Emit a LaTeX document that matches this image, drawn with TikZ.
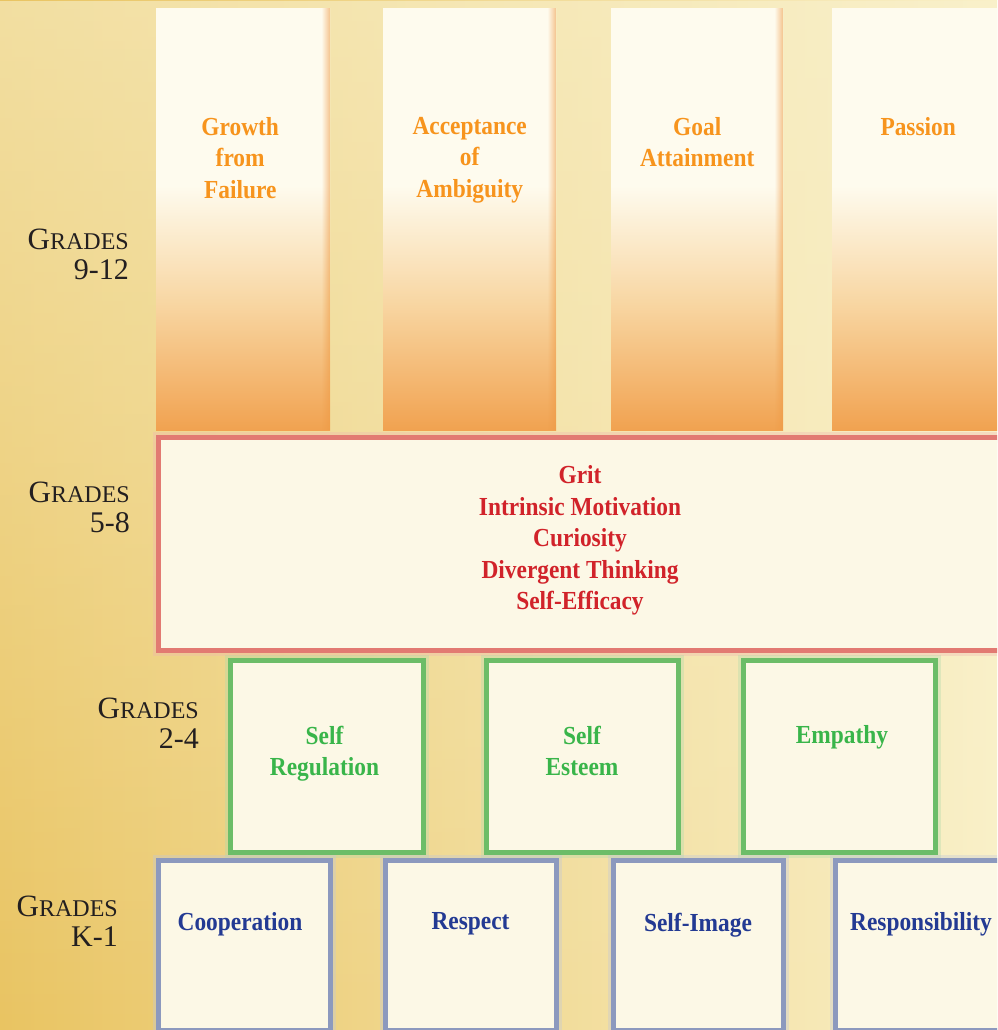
\documentclass[tikz,border=0pt]{standalone}
\usepackage{fontspec}
\setmainfont{Liberation Serif}
\newfontfamily\boxfont{Liberation Serif}[FakeStretch=0.9]
\usepackage{xcolor}
\usetikzlibrary{positioning}
\usetikzlibrary{fadings}

\definecolor{bgLeft}{HTML}{E9C462}
\definecolor{bgRight}{HTML}{F9F0C8}
\definecolor{bgTop}{HTML}{F9F1CC}
\definecolor{pillTop}{HTML}{FEFBEE}
\definecolor{pillLow}{HTML}{F8D6A2}
\definecolor{pillBot}{HTML}{F1A250}
\definecolor{pillEdge}{HTML}{EE9A45}
\definecolor{boxFill}{HTML}{FCF8E6}
\definecolor{edgeRed}{HTML}{E27A72}
\definecolor{edgeGreen}{HTML}{6CBD68}
\definecolor{edgeBlue}{HTML}{8C99BE}
\definecolor{txtOrange}{HTML}{F7941D}
\definecolor{txtRed}{HTML}{D1232A}
\definecolor{txtGreen}{HTML}{39B54A}
\definecolor{txtBlue}{HTML}{233A93}
\definecolor{txtGrade}{HTML}{231F20}

\tikzfading[name=edge glow, left color=transparent!100, right color=transparent!0]
\tikzfading[name=fade down, top color=transparent!0, bottom color=transparent!100]
\pgfdeclareverticalshading{pillarshade}{100bp}{color(0bp)=(pillBot); color(25bp)=(pillBot);
  color(40bp)=(pillLow); color(54bp)=(pillTop); color(100bp)=(pillTop)}

\newcommand\gradesword{{\fontsize{31}{30}\selectfont G}{\fontsize{24}{30}\selectfont RADES}}

\begin{document}
\begin{tikzpicture}[x=1pt,y=-1pt,
    pillar/.style={anchor=north west, inner sep=0pt, minimum width=#1, minimum height=422pt,
      shading=pillarshade},
    tierbox/.style={anchor=north west, inner sep=0pt, draw=#1, line width=5pt, fill=boxFill,
      preaction={draw=#1!55, line width=11pt, opacity=0.35}},
    boxtext/.style={font=\boxfont\bfseries\fontsize{26}{31.5}\selectfont, text=#1, align=center, inner sep=0pt},
    gradelabel/.style={font=\fontsize{30}{30}\selectfont, text=txtGrade, align=right, anchor=east, inner sep=0pt}]
    \useasboundingbox (0,0) rectangle (997,1030);
    \clip (0,0) rectangle (997,1030);
    % parchment
    \fill[left color=bgLeft, right color=bgRight] (0,0) rectangle (997,1030);
    \fill[bgTop, path fading=fade down, opacity=0.6] (0,0) rectangle (997,1030);

    % grades 9-12
    \node[pillar=174pt] (p1) at (156,8) {};
    \node[pillar=173pt] (p2) at (383,8) {};
    \node[pillar=172pt] (p3) at (611,8) {};
    \node[pillar=176pt] (p4) at (832,8) {};
    \foreach \p in {p1,p2,p3,p4}
      \fill[pillEdge, path fading=edge glow, opacity=0.6] (\p.north east) ++(-9,0) rectangle (\p.south east);
    \node[boxtext=txtOrange, below=109pt of p1.north, xshift=-3pt] (growth) {Growth\\from\\Failure};
    \node[boxtext=txtOrange, below=109pt of p2.north] (accept) {Acceptance\\of\\Ambiguity};
    \node[boxtext=txtOrange, below=109pt of p3.north] (goal) {Goal\\Attainment};
    \node[boxtext=txtOrange, below=109pt of p4.north, xshift=-2pt] (passion) {Passion};

    % grades 5-8
    \node[tierbox=edgeRed, minimum width=850pt, minimum height=213pt] (grit) at (155.5,434.5) {};
    \node[boxtext=txtRed, xshift=-3pt, yshift=3pt] (gritlist) at (grit.center) {Grit\\Intrinsic Motivation\\Curiosity\\Divergent Thinking\\Self-Efficacy};

    % grades 2-4
    \node[tierbox=edgeGreen, minimum width=193pt, minimum height=192pt] (g1) at (227.5,657.5) {};
    \node[tierbox=edgeGreen, minimum width=192pt, minimum height=192pt] (g2) at (483.5,657.5) {};
    \node[tierbox=edgeGreen, minimum width=192pt, minimum height=192pt] (g3) at (740.5,657.5) {};
    \node[boxtext=txtGreen, below=68pt of g1.north, xshift=-2pt] (selfreg) {Self\\Regulation};
    \node[boxtext=txtGreen, below=68pt of g2.north] (selfest) {Self\\Esteem};
    \node[boxtext=txtGreen, below=68pt of g3.north, xshift=3pt] (empathy) {Empathy};

    % grades K-1
    \node[tierbox=edgeBlue, minimum width=172pt, minimum height=170pt] (b1) at (155.5,857.5) {};
    \node[tierbox=edgeBlue, minimum width=171pt, minimum height=170pt] (b2) at (382.5,857.5) {};
    \node[tierbox=edgeBlue, minimum width=170pt, minimum height=170pt] (b3) at (610.5,857.5) {};
    \node[tierbox=edgeBlue, minimum width=172pt, minimum height=170pt] (b4) at (832.5,857.5) {};
    \node[boxtext=txtBlue, below=55pt of b1.north, xshift=-4pt] (coop) {Cooperation};
    \node[boxtext=txtBlue, below=55pt of b2.north] (respect) {Respect};
    \node[boxtext=txtBlue, below=55pt of b3.north] (selfimg) {Self-Image};
    \node[boxtext=txtBlue, below=55pt of b4.north] (resp) {Responsibility};

    % grade labels
    \node[gradelabel] (lab912) at (129,254) {\gradesword\\9-12};
    \node[gradelabel] (lab58) at (130,507) {\gradesword\\5-8};
    \node[gradelabel] (lab24) at (199,723) {\gradesword\\2-4};
    \node[gradelabel] (labK1) at (118,921) {\gradesword\\K-1};
\end{tikzpicture}
\end{document}
